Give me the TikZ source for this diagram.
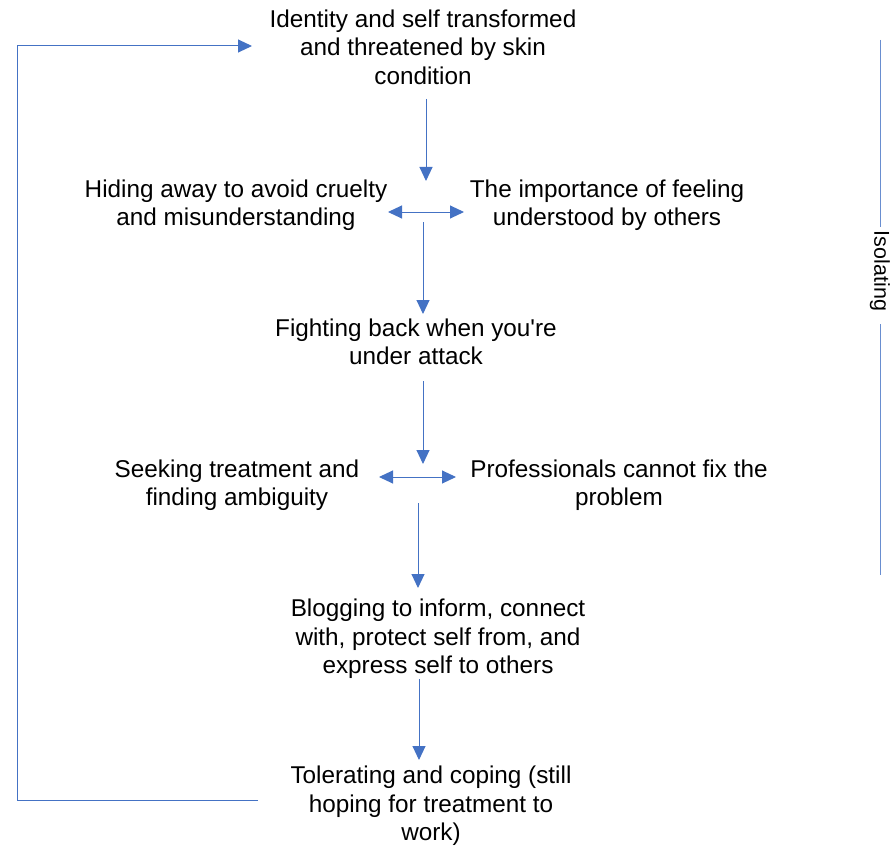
\documentclass[tikz,border=0pt]{standalone}
\usepackage{fontspec}
\setmainfont{Liberation Sans}
\usepackage{xcolor}
\usetikzlibrary{arrows.meta}
\definecolor{linkblue}{RGB}{68,114,196}

\begin{document}
\begin{tikzpicture}[
  x=1pt, y=-1pt,
  t/.style={align=center, inner sep=0pt, font=\fontsize{24.3}{28.5}\selectfont},
  arr/.style={-{Triangle[length=14pt,width=13pt]}, draw=linkblue, line width=1pt},
  dbl/.style={{Triangle[length=14pt,width=13pt]}-{Triangle[length=14pt,width=13pt]}, draw=linkblue, line width=1pt},
  ln/.style={draw=linkblue!80, line width=1pt}
]
\useasboundingbox (0,0) rectangle (892,848);
\node[t] (ident) at (423,47) {Identity and self transformed\\and threatened by skin\\condition};
\node[t] (hide) at (236,205) {Hiding away to avoid cruelty\\and misunderstanding};
\node[t] (underst) at (607,205) {The importance of feeling\\understood by others};
\node[t] (fight) at (416,342) {Fighting back when you\textquotesingle re\\under attack};
\node[t] (seek) at (237,485) {Seeking treatment and\\finding ambiguity};
\node[t] (prof) at (619,485) {Professionals cannot fix the\\problem};
\node[t] (blog) at (438,639) {Blogging to inform, connect\\with, protect self from, and\\express self to others};
\node[t] (toler) at (431,806) {Tolerating and coping (still\\hoping for treatment to\\work)};
\node[inner sep=0pt, rotate=-90, font=\fontsize{21.5}{24}\selectfont] (iso) at (880,271) {Isolating};
% arrow ends
\coordinate (a1s) at (426,99);  \coordinate (a1e) at (426,181);
\coordinate (d1l) at (388,212); \coordinate (d1r) at (464,212);
\coordinate (a2s) at (423,222); \coordinate (a2e) at (423,314);
\coordinate (a3s) at (423,381); \coordinate (a3e) at (423,464);
\coordinate (d2l) at (379,477); \coordinate (d2r) at (456,477);
\coordinate (a4s) at (418,503); \coordinate (a4e) at (418,588);
\coordinate (a5s) at (419,679); \coordinate (a5e) at (419,760);
\coordinate (loopS) at (258,800); \coordinate (loopE) at (252,46);
\coordinate (isoTop) at (880,40); \coordinate (isoBot) at (880,575);
\draw[arr] (a1s) -- (a1e);
\draw[dbl] (d1l) -- (d1r);
\draw[arr] (a2s) -- (a2e);
\draw[arr] (a3s) -- (a3e);
\draw[dbl] (d2l) -- (d2r);
\draw[arr] (a4s) -- (a4e);
\draw[arr] (a5s) -- (a5e);
\draw[arr] (loopS) -- ++(-241,0) |- (loopE);
\draw[ln, shorten >=4pt] (isoTop) -- (iso.west);
\draw[ln, shorten <=13pt] (iso.east) -- (isoBot);
\end{tikzpicture}
\end{document}
